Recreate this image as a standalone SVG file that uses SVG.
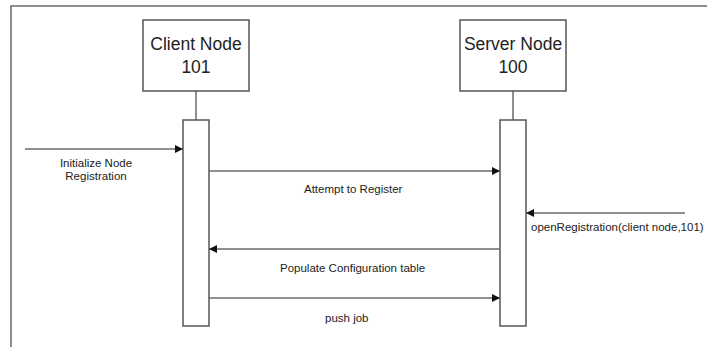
<svg xmlns="http://www.w3.org/2000/svg" width="707" height="347" viewBox="0 0 707 347">
<style>
.ln{stroke:#6a6a6a;stroke-width:1.5;fill:none}
.box{stroke:#555;stroke-width:1.5;fill:#fff}
.big{font-family:"Liberation Sans",Arial,sans-serif;font-size:17.5px;fill:#222;text-anchor:middle}
.sm{font-family:"Liberation Sans",Arial,sans-serif;font-size:11.5px;fill:#222}
</style>
<defs>
<marker id="ah" viewBox="0 0 8 8" refX="8" refY="4" markerWidth="8" markerHeight="8" markerUnits="userSpaceOnUse" orient="auto">
<path d="M0,0 L8,4 L0,8 Z" fill="#111"/>
</marker>
</defs>
<rect width="707" height="347" fill="#fff"/>
<path class="ln" d="M11,347 V6 H707" stroke="#888"/>
<g id="client">
<line class="ln" x1="196" y1="91" x2="196" y2="120"/>
<rect class="box" x="143" y="20" width="106" height="71"/>
<text class="big" x="196" y="50">Client Node</text>
<text class="big" x="196" y="73">101</text>
<rect class="box" x="183" y="120" width="26" height="206"/>
</g>
<g id="server">
<line class="ln" x1="513" y1="91" x2="513" y2="120"/>
<rect class="box" x="460" y="20" width="106" height="71"/>
<text class="big" x="513" y="50">Server Node</text>
<text class="big" x="513" y="73">100</text>
<rect class="box" x="500" y="120" width="26" height="206"/>
</g>
<g id="connectors">
<line class="ln" x1="25" y1="149" x2="183" y2="149" marker-end="url(#ah)"/>
<line class="ln" x1="209" y1="171" x2="500" y2="171" marker-end="url(#ah)"/>
<line class="ln" x1="685" y1="213" x2="526" y2="213" marker-end="url(#ah)"/>
<line class="ln" x1="500" y1="249" x2="209" y2="249" marker-end="url(#ah)"/>
<line class="ln" x1="209" y1="298" x2="500" y2="298" marker-end="url(#ah)"/>
<text class="sm" x="96" y="167" text-anchor="middle">Initialize Node</text>
<text class="sm" x="96" y="180" text-anchor="middle">Registration</text>
<text class="sm" x="304" y="193">Attempt to Register</text>
<text class="sm" x="531" y="231">openRegistration(client node,101)</text>
<text class="sm" x="280" y="272">Populate Configuration table</text>
<text class="sm" x="325" y="322">push job</text>
</g>
</svg>
